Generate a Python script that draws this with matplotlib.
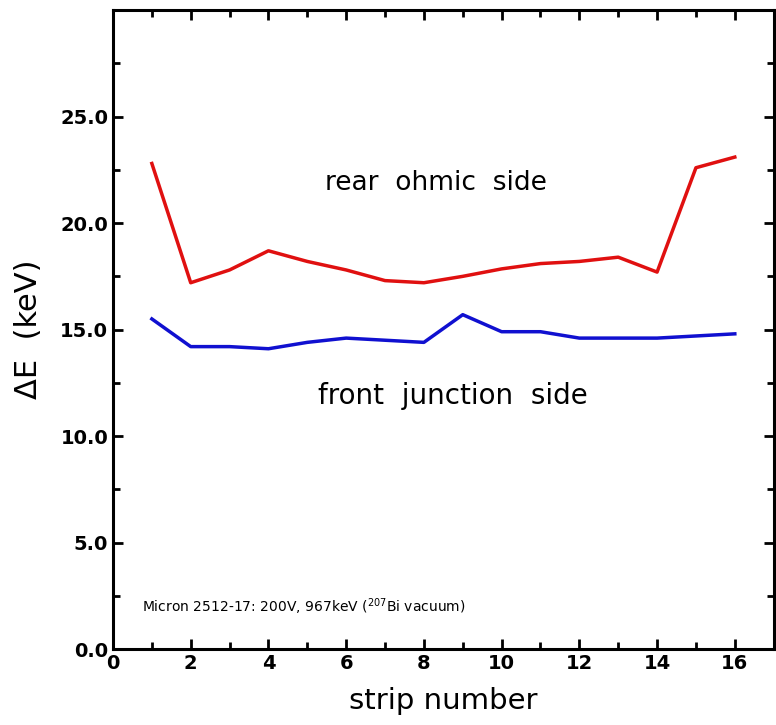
import numpy as np
import matplotlib
matplotlib.use("Agg")
import matplotlib.pyplot as plt
from matplotlib.ticker import MultipleLocator, FixedLocator

strips = list(range(1, 17))
rear_ohmic = [22.8, 17.2, 17.8, 18.7, 18.2, 17.8, 17.3, 17.2,
              17.5, 17.85, 18.1, 18.2, 18.4, 17.7, 22.6, 23.1]
front_junction = [15.5, 14.2, 14.2, 14.1, 14.4, 14.6, 14.5, 14.4,
                  15.7, 14.9, 14.9, 14.6, 14.6, 14.6, 14.7, 14.8]
y_ticks = [0, 5, 10, 15, 20, 25]

fig = plt.figure(figsize=(7.76, 7.25), dpi=100)
ax = fig.add_axes([0.1456, 0.1048, 0.8514, 0.8812])

ax.plot(strips, rear_ohmic, color="#e01010", lw=2.5)
ax.plot(strips, front_junction, color="#1010d0", lw=2.5)

ax.set_xlim(0, 17)
ax.set_ylim(0, 30)
ax.xaxis.set_major_locator(MultipleLocator(2))
ax.xaxis.set_minor_locator(MultipleLocator(1))
ax.yaxis.set_major_locator(FixedLocator(y_ticks))
ax.yaxis.set_minor_locator(MultipleLocator(2.5))
ax.yaxis.set_major_formatter(matplotlib.ticker.FormatStrFormatter("%.1f"))

ax.tick_params(which="both", direction="in", top=True, right=True,
               width=2, length=7, labelsize=14)
ax.tick_params(which="minor", length=5)
for lab in ax.get_xticklabels() + ax.get_yticklabels():
    lab.set_fontweight("bold")
for sp in ax.spines.values():
    sp.set_linewidth(2.2)

ax.set_xlabel("strip number", fontsize=21, labelpad=10)
ax.set_ylabel("ΔE  (keV)", fontsize=22, labelpad=12)

ax.text(8.3, 21.9, "rear  ohmic  side", fontsize=19, ha="center", va="center")
ax.text(8.75, 11.9, "front  junction  side", fontsize=20, ha="center", va="center")
ax.text(0.75, 2.0, "Micron 2512-17: 200V, 967keV ($^{207}$Bi vacuum)",
        fontsize=10, ha="left", va="center")

fig.savefig("out.png", dpi=100)
